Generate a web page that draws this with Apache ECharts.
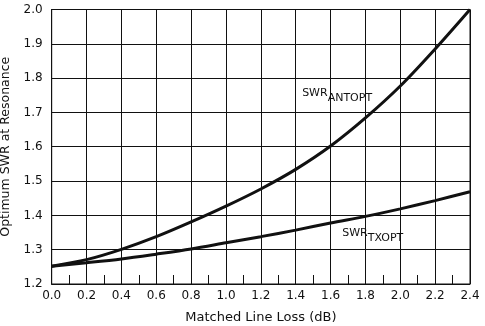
<!DOCTYPE html>
<html>
<head>
<meta charset="utf-8">
<script src="https://cdn.jsdelivr.net/npm/echarts@6/dist/echarts.min.js"></script>
<style>
  html, body { margin: 0; padding: 0; background: #fff; }
  #chart { width: 485px; height: 326px; }
</style>
</head>
<body>
<div id="chart"></div>
<script>
// Matched line loss (dB) along the horizontal axis
const lossDb = [0.0, 0.2, 0.4, 0.6, 0.8, 1.0, 1.2, 1.4, 1.6, 1.8, 2.0, 2.2, 2.4];
// Optimum SWR at resonance for antenna-optimised matching
const swrAntOpt = [1.252, 1.271, 1.301, 1.338, 1.381, 1.427, 1.477, 1.534, 1.602, 1.684, 1.777, 1.885, 2.0];
// Optimum SWR at resonance for transmitter-optimised matching
const swrTxOpt = [1.252, 1.262, 1.273, 1.287, 1.302, 1.320, 1.338, 1.357, 1.378, 1.397, 1.419, 1.443, 1.469];
// Curve captions: [loss, swr] anchor, main text, subscript
const captions = [
  { at: [1.434, 1.749], main: 'SWR', sub: 'ANTOPT' },
  { at: [1.664, 1.342], main: 'SWR', sub: 'TXOPT' }
];

const ink = '#111';
const font = 'DejaVu Sans';

function pairs(xs, ys) { return xs.map((x, i) => [x, ys[i]]); }

function captionPoint(c) {
  return {
    coord: c.at,
    label: {
      show: true,
      position: 'right',
      distance: 0,
      formatter: '{m|' + c.main + '}{s|' + c.sub + '}',
      rich: {
        m: { fontFamily: font, fontSize: 11, color: ink, lineHeight: 12, verticalAlign: 'top' },
        s: { fontFamily: font, fontSize: 11, color: ink, lineHeight: 16, verticalAlign: 'bottom' }
      }
    }
  };
}

function curve(name, ys, cap) {
  return {
    name: name,
    type: 'line',
    data: pairs(lossDb, ys),
    smooth: 0.3,
    symbol: 'none',
    lineStyle: { color: ink, width: 3 },
    silent: true,
    animation: false,
    markPoint: {
      symbol: 'rect',
      symbolSize: 1,
      itemStyle: { color: 'rgba(0,0,0,0)' },
      animation: false,
      data: [captionPoint(cap)]
    }
  };
}

const chart = echarts.init(document.getElementById('chart'), null, { renderer: 'canvas' });
chart.setOption({
  backgroundColor: '#fff',
  animation: false,
  grid: {
    left: 51.7, right: 15, top: 9.5, bottom: 42,
    outerBoundsMode: 'none',
    show: true, borderColor: ink, borderWidth: 1
  },
  xAxis: {
    type: 'value',
    min: 0, max: 2.4, interval: 0.2,
    name: 'Matched Line Loss (dB)',
    nameLocation: 'middle',
    nameGap: 27,
    nameTextStyle: { fontFamily: font, fontSize: 13, color: ink },
    axisLine: { show: true, lineStyle: { color: ink, width: 1 } },
    axisTick: { show: true, inside: true, length: 9, lineStyle: { color: ink } },
    minorTick: { show: true, splitNumber: 2, length: 9, lineStyle: { color: ink, width: 1 } },
    axisLabel: { fontFamily: font, fontSize: 12, color: ink, margin: 6, formatter: v => v.toFixed(1) },
    splitLine: { show: true, lineStyle: { color: ink, width: 1 } }
  },
  yAxis: {
    type: 'value',
    min: 1.2, max: 2.0, interval: 0.1,
    name: 'Optimum SWR at Resonance',
    nameLocation: 'middle',
    nameGap: 34,
    nameTextStyle: { fontFamily: font, fontSize: 12.5, color: ink },
    axisLine: { show: true, lineStyle: { color: ink, width: 1 } },
    axisTick: { show: false },
    axisLabel: { fontFamily: font, fontSize: 12, color: ink, margin: 9, formatter: v => v.toFixed(1) },
    splitLine: { show: true, lineStyle: { color: ink, width: 1 } }
  },
  series: [
    curve('SWR ANTOPT', swrAntOpt, captions[0]),
    curve('SWR TXOPT', swrTxOpt, captions[1])
  ]
});
</script>
</body>
</html>
